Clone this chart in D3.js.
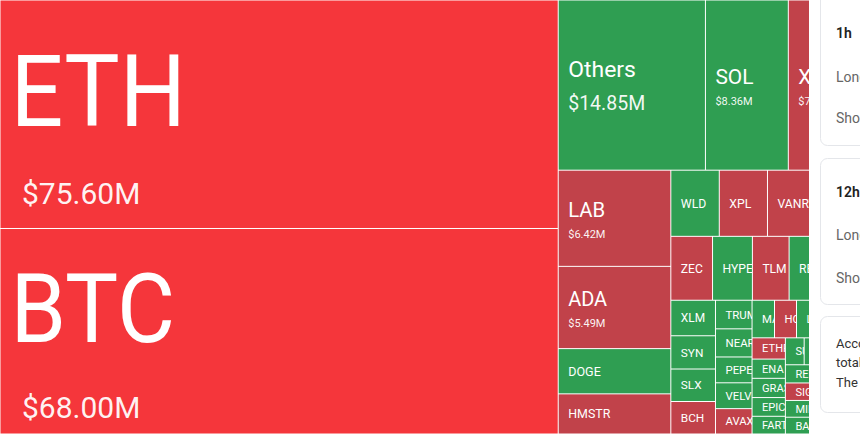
<!DOCTYPE html>
<html>
<head>
<meta charset="utf-8">
<script src="https://cdn.jsdelivr.net/npm/d3@7/dist/d3.min.js"></script>
<style>
body { margin: 0; background: #fff; font-family: Roboto, "Noto Sans", sans-serif; }
svg { display: block; }
</style>
</head>
<body>
<svg id="chart" width="860" height="434"></svg>
<script>
var width = 860, height = 434;
var mapWidth = 858;   // the map runs on under the side panel
var panelX = 809;

// liquidations by coin, $M, and which way the colour goes
var coins = ["ETH", "BTC", "Others", "SOL", "XRP", "LAB", "ADA", "DOGE", "HMSTR",
  "WLD", "XPL", "VANRY", "BNB", "ZEC", "HYPE", "TLM", "RESOLV", "LINK",
  "XLM", "SYN", "SLX", "BCH", "TRUMP", "NEAR", "PEPE", "VELVET", "AVAX",
  "MAV", "HOME", "LTC", "UNI", "ONDO", "ETHFI", "ENA", "GRASS", "EPIC", "FARTCOIN",
  "SUI", "TAO", "AAVE", "APT", "RENDER", "SIGN", "MIRA", "BARD",
  "ARB", "OP", "TIA", "INJ", "WIF", "BONK", "JUP", "PENGU", "ORDI", "FIL", "DOT", "ATOM"];
var values = [75.60, 68.00, 14.85, 8.36, 7.03, 6.42, 5.49, 3.02, 2.68,
  1.90, 1.89, 1.80, 1.75, 1.58, 1.51, 1.39, 1.32, 1.29,
  0.94, 0.88, 0.86, 0.86, 0.62, 0.61, 0.56, 0.56, 0.55,
  0.50, 0.49, 0.47, 0.46, 0.44, 0.42, 0.38, 0.38, 0.37, 0.35,
  0.30, 0.29, 0.29, 0.28, 0.26, 0.25, 0.24, 0.24,
  0.22, 0.21, 0.20, 0.19, 0.18, 0.17, 0.16, 0.15, 0.14, 0.13, 0.12, 0.12];
var tones = ["hot", "hot", "green", "green", "red", "red", "red", "green", "red",
  "green", "red", "red", "green", "red", "green", "red", "green", "red",
  "green", "green", "green", "red", "green", "green", "green", "green", "red",
  "green", "red", "green", "red", "green", "red", "green", "green", "green", "green",
  "green", "green", "red", "green", "green", "red", "green", "green",
  "red", "green", "green", "red", "green", "red", "green", "green", "red", "green", "red", "green"];

var toneColor = {hot: "#f5363b", red: "#c1424a", green: "#2f9e52"};

// side cards (cut off by the window)
var cardTops = [-10, 158, 316];
var cardBottoms = [145, 304, 412];
var cardLines = [
  [{t: "1h", y: 38, c: "#222", w: 600, s: 14}, {t: "Long", y: 82, c: "#666", w: 400, s: 14}, {t: "Short", y: 123, c: "#666", w: 400, s: 14}],
  [{t: "12h", y: 197, c: "#222", w: 600, s: 14}, {t: "Long", y: 240, c: "#666", w: 400, s: 14}, {t: "Short", y: 283, c: "#666", w: 400, s: 14}],
  [{t: "According", y: 348, c: "#333", w: 400, s: 13}, {t: "total", y: 367, c: "#333", w: 400, s: 13}, {t: "The", y: 387, c: "#333", w: 400, s: 13}]
];

var data = coins.map((c, i) => ({name: c, value: values[i], tone: tones[i]}));

var root = d3.hierarchy({children: data})
  .sum(d => d.value || 0)
  .sort((a, b) => b.value - a.value);

d3.treemap()
  .tile(d3.treemapSquarify)
  .size([mapWidth, height])(root);

var nameSize = d3.scaleLinear()
  .domain([0.3, 1, 3, 5.5, 15, 68, 75.6])
  .range([11, 12, 12.5, 20, 23, 96, 100])
  .clamp(true);
var valueSize = d3.scaleLinear()
  .domain([5, 8.4, 14.85, 68])
  .range([11, 11, 19.5, 30])
  .clamp(true);

var svg = d3.select("#chart");

svg.append("defs").append("clipPath").attr("id", "mapclip")
  .append("rect").attr("x", 0).attr("y", 0).attr("width", panelX).attr("height", height);

var map = svg.append("g").attr("clip-path", "url(#mapclip)");

var leaf = map.selectAll("g.cell")
  .data(root.leaves())
  .join("g")
  .attr("class", "cell");

leaf.append("clipPath")
  .attr("id", (d, i) => "cell-" + i)
  .append("rect")
  .attr("x", d => d.x0)
  .attr("y", d => d.y0)
  .attr("width", d => d.x1 - d.x0)
  .attr("height", d => d.y1 - d.y0);

leaf.append("rect")
  .attr("x", d => d.x0 + 0.5)
  .attr("y", d => d.y0 + 0.5)
  .attr("width", d => Math.max(0, d.x1 - d.x0 - 1))
  .attr("height", d => Math.max(0, d.y1 - d.y0 - 1))
  .attr("fill", d => toneColor[d.data.tone]);

var fmt = v => "$" + v.toFixed(2) + "M";

leaf.each(function(d, i) {
  if (d.x0 + 10 >= panelX) return;   // under the panel, nothing to see
  var g = d3.select(this).append("g").attr("clip-path", "url(#cell-" + i + ")");
  var v = d.data.value;
  var nf = nameSize(v);
  var big = nf > 40;
  var cy = (d.y0 + d.y1) / 2;
  var withValue = v >= 5;
  var nameY, valueY, vf;
  if (withValue) {
    vf = valueSize(v);
    nameY = cy + 0.37 * nf - 0.826 * vf;
    valueY = nameY + 0.43 * nf + 1.16 * vf;
  } else {
    nameY = cy + 0.355 * nf;
  }
  g.append("text")
    .attr("transform", `translate(${d.x0 + (big ? 10.5 : 10)},${nameY}) scale(${big ? 0.93 : 1},1)`)
    .attr("fill", "#fff")
    .style("font-size", nf + "px")
    .text(d.data.name);
  if (withValue) {
    g.append("text")
      .attr("x", d.x0 + (big ? 22 : 10))
      .attr("y", valueY)
      .attr("fill", "#fff")
      .attr("fill-opacity", 0.95)
      .style("font-size", vf + "px")
      .text(fmt(v));
  }
});

// side panel
var panel = svg.append("g");
panel.append("rect")
  .attr("x", panelX).attr("y", 0)
  .attr("width", width - panelX).attr("height", height)
  .attr("fill", "#fff");

panel.selectAll("rect.card")
  .data(cardTops)
  .join("rect")
  .attr("class", "card")
  .attr("x", 820.5)
  .attr("y", d => d + 0.5)
  .attr("width", 60)
  .attr("height", (d, i) => cardBottoms[i] - d)
  .attr("rx", 7)
  .attr("fill", "#fff")
  .attr("stroke", "#e4e6ea");

cardLines.forEach(lines => {
  panel.selectAll(null)
    .data(lines)
    .join("text")
    .attr("x", 836)
    .attr("y", d => d.y)
    .attr("fill", d => d.c)
    .attr("font-weight", d => d.w)
    .style("font-size", d => d.s + "px")
    .text(d => d.t);
});
</script>
</body>
</html>
